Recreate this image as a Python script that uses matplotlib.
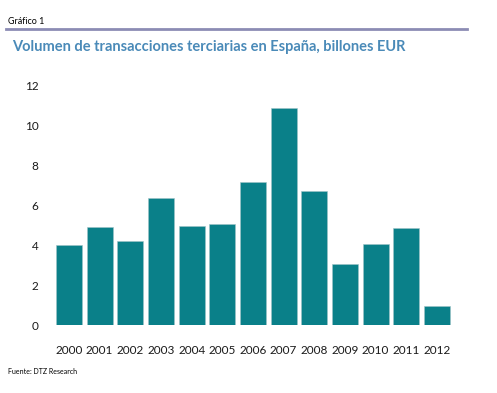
import matplotlib
matplotlib.use("Agg")
import matplotlib.pyplot as plt
from matplotlib.lines import Line2D

years = ["2000", "2001", "2002", "2003", "2004", "2005", "2006",
         "2007", "2008", "2009", "2010", "2011", "2012"]
values = [4.0, 4.9, 4.23, 6.35, 4.98, 5.08, 7.16, 10.85, 6.7, 3.08, 4.08, 4.85, 0.97]
yticks = [0, 2, 4, 6, 8, 10, 12]

plt.rcParams['font.family'] = ['Lato', 'DejaVu Sans']

fig = plt.figure(figsize=(4.97, 3.93), dpi=100)
ax = fig.add_axes([0.108, 0.1718, 0.802, 0.6119])

ax.bar(range(len(years)), values, width=0.85, color="#0a8089",
       edgecolor="#9fc4c8", linewidth=0.4)
ax.set_xlim(-0.5, len(years) - 0.5)
ax.set_ylim(0, 12)
ax.set_yticks(yticks)
ax.set_yticklabels([str(t) for t in yticks])
ax.set_xticks(range(len(years)))
ax.set_xticklabels(years)
for s in ax.spines.values():
    s.set_visible(False)
ax.tick_params(axis='both', length=0, labelsize=8.5, colors="#1a1a1a")
ax.tick_params(axis='y', pad=11)
ax.tick_params(axis='x', pad=14)

fig.text(8/497, 1 - 22/393, "Gráfico 1", fontsize=6.5, color="black",
         va="center", ha="left")
fig.add_artist(Line2D([6/497, 467/497], [1 - 29/393, 1 - 29/393],
                      transform=fig.transFigure, color="#8c8cb4", linewidth=2))
fig.text(12/497, 1 - 47/393, "Volumen de transacciones terciarias en España, billones EUR",
         fontsize=10.5, fontweight="bold", color="#4a8ab8", va="center", ha="left")
fig.text(8/497, 1 - 372/393, "Fuente: DTZ Research", fontsize=5, color="black",
         va="center", ha="left")

fig.savefig("out.png", dpi=100)
